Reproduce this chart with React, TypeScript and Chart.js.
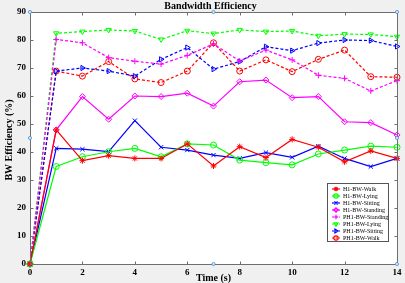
import React, { useEffect, useRef } from 'react';
import { Chart, registerables } from 'chart.js';
import { drawPoint } from 'chart.js/helpers';

Chart.register(...registerables);

const times = [0, 1, 2, 3, 4, 5, 6, 7, 8, 9, 10, 11, 12, 13, 14];
const xTicks = [0, 2, 4, 6, 8, 10, 12, 14];
const yTicks = [0, 10, 20, 30, 40, 50, 60, 70, 80, 90];

const h1Walk = [0, 47.9, 36.9, 38.7, 37.7, 37.7, 42.9, 35.0, 41.9, 38.0, 44.5, 41.7, 36.5, 40.4, 37.7];
const h1Lying = [0, 34.8, 38.3, 40.1, 41.3, 38.3, 42.9, 42.5, 37.1, 36.2, 35.4, 39.3, 40.7, 42.1, 41.7];
const h1Sitting = [0, 41.3, 41.0, 40.1, 51.2, 41.7, 40.7, 38.9, 37.7, 39.8, 38.1, 42.1, 37.7, 34.8, 37.7];
const h1Standing = [0, 47.9, 59.8, 51.7, 60.0, 59.8, 61.0, 56.4, 65.1, 65.7, 59.4, 59.8, 50.8, 50.5, 46.1];
const ph1Standing = [0, 80.2, 79.0, 73.7, 72.4, 71.4, 74.5, 78.6, 72.5, 76.4, 72.9, 67.4, 66.3, 61.8, 65.5];
const ph1Lying = [0, 82.4, 83.0, 83.6, 83.2, 80.2, 83.3, 82.3, 83.6, 83.0, 83.2, 81.5, 82.1, 82.0, 81.2];
const ph1Sitting = [0, 68.9, 70.0, 68.9, 67.1, 73.1, 77.3, 69.6, 72.3, 77.6, 76.2, 78.9, 80.0, 79.8, 77.7];
const ph1Walk = [0, 68.9, 67.1, 72.3, 66.1, 64.8, 68.9, 79.0, 68.9, 72.9, 68.7, 73.1, 76.4, 66.9, 66.7];

const seriesNames = [
  'H1-BW-Walk', 'H1-BW-Lying', 'H1-BW-Sitting', 'H1-BW-Standing',
  'PH1-BW-Standing', 'PH1-BW-Lying', 'PH1-BW-Sitting', 'PH1-BW-Walk',
];
const seriesValues = [h1Walk, h1Lying, h1Sitting, h1Standing, ph1Standing, ph1Lying, ph1Sitting, ph1Walk];
const seriesColors = ['#ff0000', '#00ff00', '#0000ff', '#ff00ff', '#ff00ff', '#00ff00', '#0000ff', '#ff0000'];
const seriesDashed = [false, false, false, false, true, true, true, true];
const seriesPointStyle = ['star', 'circle', 'crossRot', 'rectRot', 'cross', 'triangle', 'triangle', 'circle'];
const seriesRotation = [0, 0, 0, 0, 0, 180, 90, 0];

const SERIF = '"Liberation Serif", "Times New Roman", serif';
const AXIS_COLOR = '#6e6e6e';

const decorPlugin = {
  id: 'decor',
  beforeDraw(chart: any) {
    const { ctx, chartArea: a, width, height } = chart;
    ctx.save();
    ctx.fillStyle = '#f0f0f0';
    ctx.fillRect(0, 0, width, height);
    ctx.fillStyle = '#ffffff';
    ctx.fillRect(a.left, a.top, a.right - a.left, a.bottom - a.top);
    ctx.restore();
  },
  afterDraw(chart: any) {
    const { ctx, chartArea: a } = chart;
    const xs = chart.scales.x;
    const ys = chart.scales.y;
    ctx.save();
    // axes box
    ctx.strokeStyle = AXIS_COLOR;
    ctx.lineWidth = 1;
    const L = Math.round(a.left) + 0.5;
    const R = Math.round(a.right) + 0.5;
    const T = Math.round(a.top) + 0.5;
    const B = Math.round(a.bottom) + 0.5;
    ctx.strokeRect(L, T, R - L, B - T);
    // inward ticks
    const tl = 3;
    ctx.beginPath();
    xTicks.forEach((v) => {
      const px = Math.round(xs.getPixelForValue(v)) + 0.5;
      ctx.moveTo(px, B); ctx.lineTo(px, B - tl);
      ctx.moveTo(px, T); ctx.lineTo(px, T + tl);
    });
    yTicks.forEach((v) => {
      const py = Math.round(ys.getPixelForValue(v)) + 0.5;
      ctx.moveTo(L, py); ctx.lineTo(L + tl, py);
      ctx.moveTo(R, py); ctx.lineTo(R - tl, py);
    });
    ctx.stroke();

    // titles
    ctx.fillStyle = '#000';
    ctx.textAlign = 'center';
    ctx.textBaseline = 'middle';
    ctx.font = `bold 10px ${SERIF}`;
    ctx.fillText('Bandwidth Efficiency', (a.left + a.right) / 2 - 3, 6);
    ctx.fillText('Time (s)', (a.left + a.right) / 2, 278);
    ctx.save();
    ctx.translate(9, (a.top + a.bottom) / 2 + 2);
    ctx.rotate(-Math.PI / 2);
    ctx.fillText('BW Efficiency (%)', 0, 0);
    ctx.restore();

    // legend
    const bx = a.right - 70;
    const by = a.bottom - 81;
    const bw = 61;
    const bh = 58;
    ctx.fillStyle = '#ffffff';
    ctx.fillRect(bx, by, bw, bh);
    ctx.strokeStyle = '#555';
    ctx.lineWidth = 1;
    ctx.strokeRect(Math.round(bx) + 0.5, Math.round(by) + 0.5, bw, bh);
    ctx.font = `6px ${SERIF}`;
    ctx.textAlign = 'left';
    ctx.textBaseline = 'middle';
    seriesNames.forEach((name, i) => {
      const y = by + 6 + i * 7;
      const x0 = bx + 5;
      const x1 = bx + 13;
      ctx.strokeStyle = seriesColors[i];
      ctx.lineWidth = 1.2;
      ctx.setLineDash(seriesDashed[i] ? [2, 1.5] : []);
      ctx.beginPath();
      ctx.moveTo(x0, y); ctx.lineTo(x1, y);
      ctx.stroke();
      ctx.setLineDash([]);
      ctx.fillStyle = 'rgba(0,0,0,0)';
      drawPoint(ctx, {
        pointStyle: seriesPointStyle[i],
        rotation: seriesRotation[i],
        radius: 2.2,
        borderWidth: 1,
      } as any, (x0 + x1) / 2, y);
      ctx.fillStyle = '#000';
      ctx.fillText(name, bx + 16, y + 0.5);
    });

    // selection handles
    const mx = (a.left + a.right) / 2;
    const my = (a.top + a.bottom) / 2;
    const handles = [
      [a.left, a.top], [mx, a.top], [a.right, a.top],
      [a.left, my], [a.right, my], [mx, a.bottom], [a.right, a.bottom],
    ];
    handles.forEach(([hx, hy]) => {
      ctx.beginPath();
      ctx.arc(hx, hy, 1.6, 0, Math.PI * 2);
      ctx.fillStyle = '#d6e8f7';
      ctx.fill();
      ctx.strokeStyle = '#4d8ecb';
      ctx.lineWidth = 0.8;
      ctx.stroke();
    });
    ctx.restore();
  },
};

export default function App() {
  const canvasRef = useRef<HTMLCanvasElement | null>(null);

  useEffect(() => {
    document.body.style.margin = '0';
    const canvas = canvasRef.current;
    if (!canvas) return;
    const datasets = seriesNames.map((name, i) => ({
      label: name,
      data: times.map((t, j) => ({ x: t, y: seriesValues[i][j] })),
      borderColor: seriesColors[i],
      backgroundColor: 'rgba(0,0,0,0)',
      pointBorderColor: seriesColors[i],
      pointBackgroundColor: 'rgba(0,0,0,0)',
      borderWidth: 1.2,
      borderDash: seriesDashed[i] ? [3, 2] : [],
      pointStyle: seriesPointStyle[i],
      rotation: seriesRotation[i],
      pointRadius: 3,
      pointBorderWidth: 1,
      tension: 0,
      clip: 8,
    }));
    const chart = new Chart(canvas, {
      type: 'line',
      data: { datasets } as any,
      options: {
        animation: false,
        responsive: false,
        maintainAspectRatio: false,
        devicePixelRatio: 1,
        layout: { padding: { left: 0, top: 12, right: 8, bottom: 0 } },
        plugins: {
          legend: { display: false },
          title: { display: false },
          tooltip: { enabled: false },
        },
        scales: {
          x: {
            type: 'linear',
            min: 0,
            max: 14,
            afterFit: (s: any) => { s.height = 19; },
            afterBuildTicks: (s: any) => { s.ticks = xTicks.map((v) => ({ value: v })); },
            grid: { display: false, drawTicks: false },
            border: { display: false },
            ticks: {
              color: '#000',
              padding: 3,
              maxRotation: 0,
              font: { family: SERIF, size: 9, weight: 'bold' },
            },
          },
          y: {
            type: 'linear',
            min: 0,
            max: 90,
            afterFit: (s: any) => { s.width = 30; },
            afterBuildTicks: (s: any) => { s.ticks = yTicks.map((v) => ({ value: v })); },
            grid: { display: false, drawTicks: false },
            border: { display: false },
            ticks: {
              color: '#000',
              padding: 4,
              font: { family: SERIF, size: 9, weight: 'bold' },
            },
          },
        },
      } as any,
      plugins: [decorPlugin],
    });
    return () => chart.destroy();
  }, []);

  return (
    <div style={{ position: 'fixed', left: 0, top: 0, width: 405, height: 283 }}>
      <canvas ref={canvasRef} width={405} height={283} style={{ width: 405, height: 283, display: 'block' }} />
    </div>
  );
}
